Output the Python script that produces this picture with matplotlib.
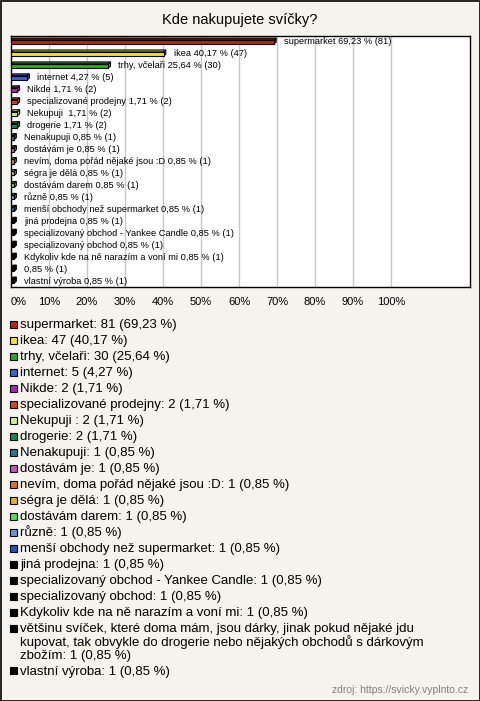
import textwrap
import matplotlib
matplotlib.use("Agg")
import matplotlib.pyplot as plt
from matplotlib.patches import Rectangle, Polygon

plt.rcParams['font.family'] = ['Liberation Sans', 'DejaVu Sans']

title = "Kde nakupujete svíčky?"
source = "zdroj: https://svicky.vyplnto.cz"

categories = [
    "supermarket", "ikea", "trhy, včelaři", "internet", "Nikde",
    "specializované prodejny", "Nekupuji ", "drogerie", "Nenakupuji",
    "dostávám je", "nevím, doma pořád nějaké jsou :D", "ségra je dělá",
    "dostávám darem", "různě", "menší obchody než supermarket",
    "jiná prodejna", "specializovaný obchod - Yankee Candle",
    "specializovaný obchod", "Kdykoliv kde na ně narazím a voní mi",
    "většinu svíček, které doma mám, jsou dárky, jinak pokud nějaké jdu "
    "kupovat, tak obvykle do drogerie nebo nějakých obchodů s dárkovým zbožím",
    "vlastní výroba",
]
counts = [81, 47, 30, 5, 2, 2, 2, 2, 1, 1, 1, 1, 1, 1, 1, 1, 1, 1, 1, 1, 1]
percents = [69.23, 40.17, 25.64, 4.27, 1.71, 1.71, 1.71, 1.71, 0.85, 0.85,
            0.85, 0.85, 0.85, 0.85, 0.85, 0.85, 0.85, 0.85, 0.85, 0.85, 0.85]
colors = ["#c42012", "#f2e21c", "#22b022", "#3462e0", "#b020c4", "#d84414",
          "#c4f284", "#128a56", "#207a92", "#c452c4", "#e47406", "#e6b406",
          "#48e448", "#6692e2", "#2252c4", "#000000", "#000000", "#000000",
          "#000000", "#000000", "#000000"]
xticks = [0, 10, 20, 30, 40, 50, 60, 70, 80, 90, 100]

W, H = 480, 701
fig = plt.figure(figsize=(W / 100, H / 100), dpi=100)
fig.patch.set_facecolor("#f4f3ec")

# pixel overlay for frame, title, legend
bg = fig.add_axes([0, 0, 1, 1])
bg.set_xlim(0, W)
bg.set_ylim(H, 0)
bg.axis("off")
bg.add_patch(Rectangle((0.5, 0.5), W - 1, H - 1, fill=False, ec="black", lw=1.2))
bg.text(240, 20, title, ha="center", va="center", fontsize=10.5)
bg.text(468, 690, source, ha="right", va="center", fontsize=7.5, color="#808080")


def fmt(p):
    return f"{p:.2f}".replace(".", ",")


# legend
y = 324
for name, n, p, c in zip(categories, counts, percents, colors):
    lines = textwrap.wrap(f"{name}: {n} ({fmt(p)} %)", width=66)
    bg.add_patch(Rectangle((10, y - 3.5), 7, 7, fc=c, ec="black", lw=0.8))
    for k, line in enumerate(lines):
        bg.text(20, y + 4.3 + 13.3 * k, line, ha="left", va="baseline", fontsize=9.5)
    y += 16 + 13.3 * (len(lines) - 1)

# bar chart
ax = fig.add_axes([11 / W, 1 - 287 / H, 459 / W, 251 / H])
ax.set_facecolor("white")
n_rows = len(categories)
ax.set_xlim(0, 459 / 3.8)
ax.set_ylim(n_rows - 0.5, -0.5)
for s in ax.spines.values():
    s.set_color("black")
    s.set_linewidth(1)
ax.set_yticks([])
ax.set_xticks(xticks)
ax.set_xticklabels([f"{t}%" for t in xticks], fontsize=8)
ax.get_xticklabels()[0].set_ha("left")
ax.tick_params(axis="x", length=0, pad=7)
ax.grid(axis="x", color="#c8c8c8", lw=1)
ax.set_axisbelow(True)

h, dx, dy = 0.34, 0.55, 0.16
for i, (name, n, p, c) in enumerate(zip(categories, counts, percents, colors)):
    top = i - h / 2
    ax.add_patch(Polygon([(0, top), (p, top), (p + dx, top - dy), (dx, top - dy)],
                         closed=True, fc=c, ec="black", lw=0.8, zorder=3))
    ax.add_patch(Polygon([(p, top), (p + dx, top - dy), (p + dx, top + h - dy), (p, top + h)],
                         closed=True, fc=c, ec="black", lw=0.8, zorder=3))
    ax.add_patch(Rectangle((0, top), p, h, fc=c, ec="black", lw=0.8, zorder=4))
    label = name if len(name) < 60 else ""
    ax.text(p + 2.6, i, f"{label} {fmt(p)} % ({n})".strip(), ha="left", va="center",
            fontsize=6.7, zorder=5)

fig.savefig("out.png", dpi=100, facecolor=fig.get_facecolor())
